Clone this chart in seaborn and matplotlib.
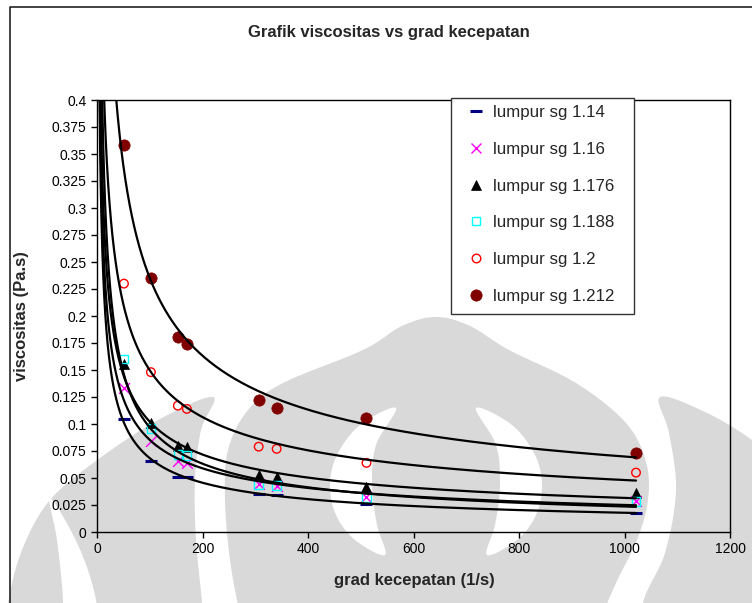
import numpy as np
import matplotlib
matplotlib.use("Agg")
import matplotlib.pyplot as plt
import seaborn as sns
from matplotlib.lines import Line2D
from matplotlib.patches import Polygon, Rectangle

# shear rate (1/s) at the rheometer speeds
grad = [51.09, 102.18, 153.27, 170.3, 306.54, 340.6, 510.9, 1021.8]

visc_114 = [0.105, 0.066, 0.051, 0.051, 0.035, 0.034, 0.026, 0.018]
visc_116 = [0.133, 0.084, 0.066, 0.064, 0.044, 0.043, 0.032, 0.029]
visc_1176 = [0.156, 0.101, 0.080, 0.079, 0.053, 0.051, 0.042, 0.036]
visc_1188 = [0.160, 0.096, 0.072, 0.071, 0.044, 0.043, 0.032, 0.028]
visc_12 = [0.230, 0.148, 0.117, 0.114, 0.079, 0.077, 0.064, 0.055]
visc_1212 = [0.358, 0.235, 0.181, 0.174, 0.122, 0.115, 0.106, 0.073]

labels = ["lumpur sg 1.14", "lumpur sg 1.16", "lumpur sg 1.176",
          "lumpur sg 1.188", "lumpur sg 1.2", "lumpur sg 1.212"]
series = [visc_114, visc_116, visc_1176, visc_1188, visc_12, visc_1212]

x_ticks = [0, 200, 400, 600, 800, 1000, 1200]
y_ticks = [0, 0.025, 0.05, 0.075, 0.1, 0.125, 0.15, 0.175, 0.2,
           0.225, 0.25, 0.275, 0.3, 0.325, 0.35, 0.375, 0.4]

# marker, size, face, edge, linewidth
styles = [
    ("_", 64, "#000080", None, 2.2),
    ("x", 60, "#ff00ff", None, 1.0),
    ("^", 52, "black", "black", 0.5),
    ("s", 38, "none", "#00ffff", 1.0),
    ("o", 38, "none", "#ff0000", 1.0),
    ("o", 66, "#800000", "#800000", 0.5),
]

W, H = 752, 603
GREY = "#d9d9d9"


def smooth(pts, n=14):
    # closed Catmull-Rom curve through the outline points
    p = np.asarray(pts, float)
    m = len(p)
    t = np.linspace(0, 1, n, endpoint=False)[:, None]
    out = []
    for i in range(m):
        p0, p1, p2, p3 = p[i - 1], p[i], p[(i + 1) % m], p[(i + 2) % m]
        out.append(0.5 * (2 * p1 + (-p0 + p2) * t
                          + (2 * p0 - 5 * p1 + 4 * p2 - p3) * t ** 2
                          + (-p0 + 3 * p1 - 3 * p2 + p3) * t ** 3))
    out = np.vstack(out)
    return np.column_stack([out[:, 0] / W, 1 - out[:, 1] / H])


# rough outline of the faded logo behind the chart (image pixels)
logo = [
    (GREY, [(436, 317), (470, 326), (509, 350), (576, 383), (626, 423), (646, 462),
            (648, 500), (637, 540), (616, 583), (604, 615), (600, 660), (250, 660),
            (240, 615), (230, 560), (225, 500), (228, 450), (248, 410), (283, 383),
            (363, 350), (402, 326)]),
    (GREY, [(213, 397), (160, 419), (100, 458), (50, 500), (22, 550), (8, 603),
            (0, 660), (205, 660), (202, 603), (196, 540), (195, 480), (201, 430)]),
    (GREY, [(660, 397), (705, 412), (752, 440), (800, 480), (800, 660), (640, 660),
            (643, 603), (665, 553), (676, 490), (669, 433)]),
    ("white", [(50, 498), (57, 540), (63, 600), (63, 660), (100, 660), (96, 600),
               (78, 545)]),
    ("white", [(396, 408), (360, 425), (337, 455), (330, 485), (336, 515), (355, 540),
               (385, 555), (377, 525), (372, 485), (376, 445)]),
    ("white", [(476, 408), (512, 425), (535, 455), (542, 485), (536, 515), (517, 540),
               (487, 555), (495, 525), (500, 485), (496, 445)]),
]

sns.set_theme(style="ticks")
plt.rcParams["font.family"] = ["Liberation Sans", "DejaVu Sans"]

fig = plt.figure(figsize=(W / 100, H / 100), dpi=100)
fig.patch.set_facecolor("white")

for col, pts in logo:
    fig.add_artist(Polygon(smooth(pts), closed=True, transform=fig.transFigure,
                           facecolor=col, edgecolor="none", zorder=-2))

# chart area border (runs off the page on the right and bottom)
fig.add_artist(Line2D([10 / W, 10 / W, 1], [0, 1 - 7 / H, 1 - 7 / H],
                      transform=fig.transFigure, color="#222222", lw=1.2, zorder=-1))

ax = fig.add_axes([97 / W, 1 - 532 / H, 633 / W, 432 / H])
ax.set_facecolor("none")

xs = np.geomspace(2, grad[-1], 500)
for vals, (mk, s, fc, ec, lw) in zip(series, styles):
    kw = dict(marker=mk, s=s, linewidth=lw, ax=ax, zorder=3, legend=False)
    if ec is None:
        kw["color"] = fc
    elif fc == "none":
        kw["facecolors"] = "none"
        kw["edgecolors"] = ec
    else:
        kw["color"] = fc
        kw["edgecolor"] = ec
    sns.scatterplot(x=grad, y=vals, **kw)

    # power trendline, y = a * x^b
    b, ln_a = np.polyfit(np.log(grad), np.log(vals), 1)
    sns.lineplot(x=xs, y=np.exp(ln_a) * xs ** b, color="black", linewidth=1.6,
                 ax=ax, zorder=4, legend=False)

ax.set_xlim(0, 1200)
ax.set_ylim(0, 0.4)
ax.set_xticks(x_ticks)
ax.set_xticklabels([str(v) for v in x_ticks])
ax.set_yticks(y_ticks)
ax.set_yticklabels(["%g" % v for v in y_ticks])
ax.tick_params(axis="both", labelsize=10, length=4, width=1, color="black",
               labelcolor="black", direction="out")
for sp in ax.spines.values():
    sp.set_color("black")
    sp.set_linewidth(1.0)
ax.set_xlabel("")
ax.set_ylabel("")

fig.text(389 / W, 1 - 33 / H, "Grafik viscositas vs grad kecepatan",
         ha="center", va="center", fontsize=12, fontweight="bold")
fig.text(414 / W, 1 - 580 / H, "grad kecepatan (1/s)",
         ha="center", va="center", fontsize=12, fontweight="bold")
fig.text(22 / W, 1 - 316 / H, "viscositas (Pa.s)", rotation=90,
         ha="center", va="center", fontsize=12, fontweight="bold")

handles = []
for mk, s, fc, ec, lw in styles:
    if ec is None:
        h = Line2D([], [], ls="none", marker=mk, color=fc, markersize=np.sqrt(s),
                   markeredgewidth=lw)
    else:
        h = Line2D([], [], ls="none", marker=mk, markerfacecolor=fc,
                   markeredgecolor=ec, markersize=np.sqrt(s), markeredgewidth=lw)
    handles.append(h)

# legend box drawn separately so its size matches the original
ax.add_patch(Rectangle((451 / W, 1 - 314 / H), 183 / W, 216 / H,
                       transform=fig.transFigure, facecolor="white",
                       edgecolor="#333333", lw=1.0, zorder=5, clip_on=False))
leg = ax.legend(handles, labels, loc="upper left",
                bbox_to_anchor=(451 / W, 1 - 98.5 / H), bbox_transform=fig.transFigure,
                borderaxespad=0, fontsize=12.2, frameon=False, borderpad=0.4,
                handlelength=2.2, handletextpad=-0.1, labelspacing=1.28)
leg.set_zorder(6)

fig.savefig("out.png", dpi=100)
